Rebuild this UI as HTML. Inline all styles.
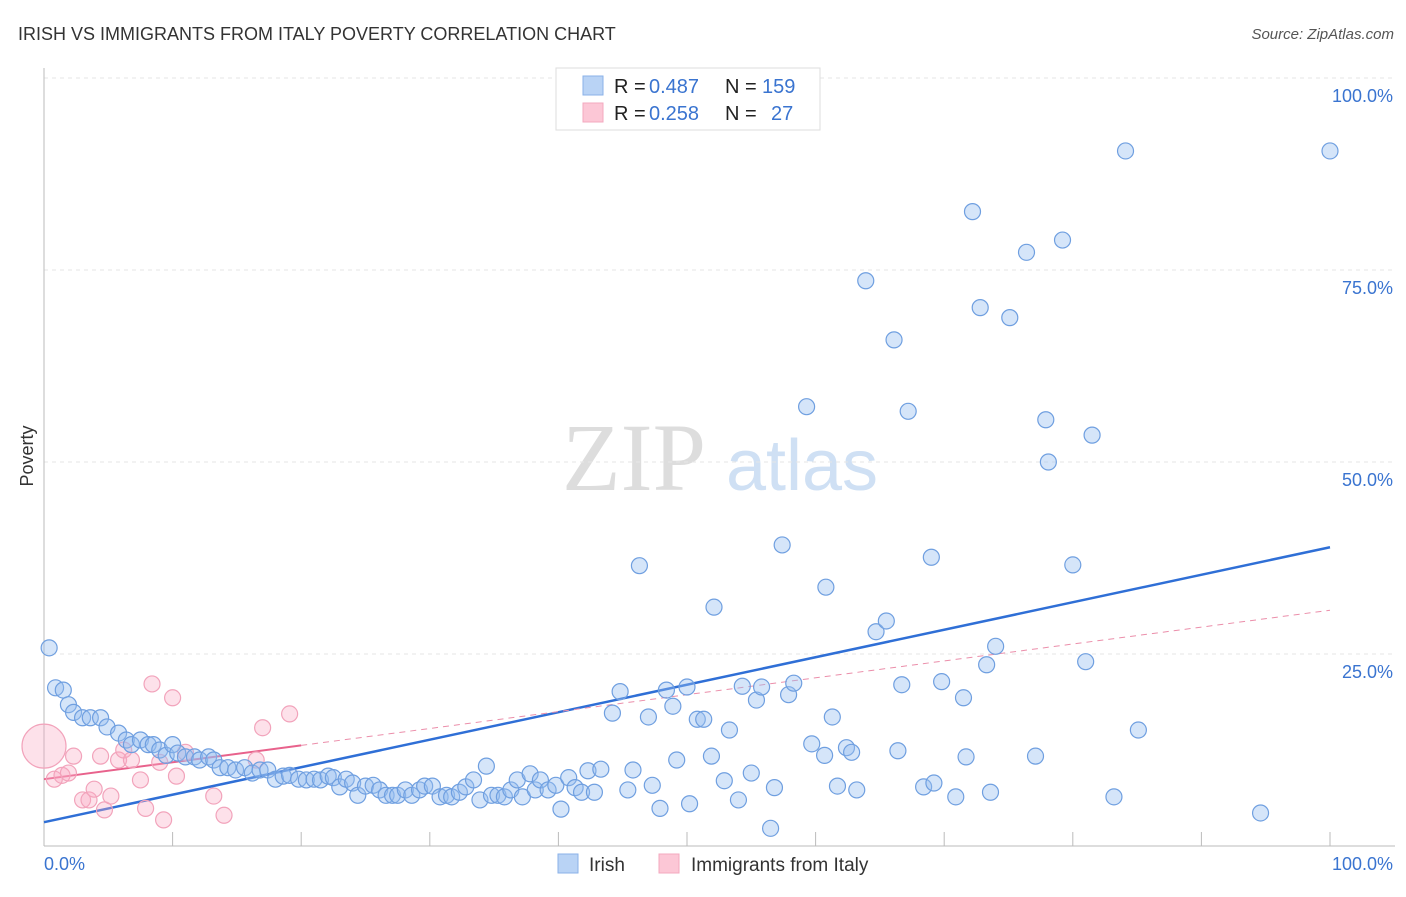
<!DOCTYPE html>
<html><head><meta charset="utf-8"><style>
body{margin:0;background:#fff;font-family:"Liberation Sans",sans-serif;}
svg text{font-family:"Liberation Sans",sans-serif;}
</style></head><body>
<svg id="chart" width="1406" height="892">
<text x="18" y="40" font-size="18" fill="#333">IRISH VS IMMIGRANTS FROM ITALY POVERTY CORRELATION CHART</text>
<text x="1394" y="39" font-size="15" fill="#555" font-style="italic" text-anchor="end">Source: ZipAtlas.com</text>
<g>
<text x="634" y="490" font-size="96" fill="#ddd" font-family="Liberation Serif" text-anchor="middle" style="font-family:'Liberation Serif',serif">ZIP</text>
<text x="802" y="490" font-size="72" fill="#cfe0f4" text-anchor="middle">atlas</text>
</g>
<text transform="translate(33,456) rotate(-90)" font-size="18" fill="#333" text-anchor="middle">Poverty</text>
<g id="grid"></g><g id="axes"></g><g id="lines"></g><g id="pts"></g>
<g>
<rect x="556" y="68" width="264" height="62" fill="#fff" stroke="#ddd"/>
<rect x="583" y="76" width="20" height="19" fill="#b9d3f5" stroke="#8ab2e8"/>
<rect x="583" y="103" width="20" height="19" fill="#fcc7d6" stroke="#f3a8bf"/>
<text x="614" y="93" font-size="20" fill="#222">R =</text>
<text x="649" y="93" font-size="20" fill="#3a74d0">0.487</text>
<text x="725" y="93" font-size="20" fill="#222">N =</text>
<text x="762" y="93" font-size="20" fill="#3a74d0">159</text>
<text x="614" y="120" font-size="20" fill="#222">R =</text>
<text x="649" y="120" font-size="20" fill="#3a74d0">0.258</text>
<text x="725" y="120" font-size="20" fill="#222">N =</text>
<text x="771" y="120" font-size="20" fill="#3a74d0">27</text>
</g>
<g>
<rect x="558" y="854" width="20" height="19" fill="#b9d3f5" stroke="#8ab2e8"/>
<text x="589" y="871" font-size="19" fill="#333">Irish</text>
<rect x="659" y="854" width="20" height="19" fill="#fcc7d6" stroke="#f3a8bf"/>
<text x="691" y="871" font-size="19" fill="#333">Immigrants from Italy</text>
</g>
</svg>
<script>
const yTicks=[25,50,75,100];
const yTickLabels=["25.0%","50.0%","75.0%","100.0%"];
const irishX=[0.4,0.9,1.5,1.9,2.3,3.0,3.6,4.4,4.9,5.8,6.4,6.8,7.5,8.1,8.5,9.0,9.5,10.0,10.4,11.0,11.7,12.1,12.8,13.2,13.7,14.3,14.9,15.6,16.2,16.8,17.4,18.0,18.6,19.1,19.8,20.4,21.0,21.5,22.1,22.5,23.0,23.5,24.0,24.4,25.0,25.6,26.1,26.6,27.1,27.5,28.1,28.6,29.2,29.6,30.2,30.8,31.3,31.7,32.3,32.8,33.4,33.9,34.4,34.8,35.3,35.8,36.3,36.8,37.2,37.8,38.2,38.6,39.2,39.8,40.2,40.8,41.3,41.8,42.3,42.8,43.3,
44.2,44.8,45.4,45.8,46.3,47.0,47.3,47.9,48.4,48.9,49.2,50.0,50.2,50.8,51.3,51.9,52.1,52.9,53.3,54.0,54.3,55.0,55.4,55.8,56.5,56.8,57.4,57.9,58.3,59.3,59.7,60.7,60.8,61.3,61.7,62.4,62.8,63.2,63.9,64.7,65.5,66.1,66.4,66.7,67.2,68.4,69.0,69.2,69.8,70.9,71.5,71.7,72.2,72.8,73.3,73.6,74.0,75.1,76.4,77.1,77.9,78.1,79.2,80.0,81.0,81.5,83.2,84.1,85.1,94.6,100];
const irishY=[25.8,20.6,20.3,18.4,17.4,16.7,16.7,16.7,15.5,14.7,13.8,13.2,13.8,13.2,13.2,12.5,11.8,13.2,12.1,11.6,11.6,11.2,11.6,11.2,10.2,10.2,9.9,10.2,9.5,9.9,9.9,8.7,9.1,9.2,8.7,8.6,8.7,8.6,9.1,8.9,7.7,8.7,8.2,6.6,7.8,7.9,7.3,6.6,6.6,6.6,7.3,6.6,7.3,7.8,7.8,6.4,6.6,6.4,7.0,7.7,8.6,6.0,10.4,6.6,6.6,6.4,7.3,8.6,6.4,9.4,7.3,8.6,7.3,7.9,4.8,8.9,7.6,7.0,9.8,7.0,10.0,
17.3,20.1,7.3,9.9,36.5,16.8,7.9,4.9,20.3,18.2,11.2,20.7,5.5,16.5,16.5,11.7,31.1,8.5,15.1,6.0,20.8,9.5,19.0,20.7,2.3,7.6,39.2,19.7,21.2,57.2,13.3,11.8,33.7,16.8,7.8,12.8,12.2,7.3,73.6,27.9,29.3,65.9,12.4,21.0,56.6,7.7,37.6,8.2,21.4,6.4,19.3,11.6,82.6,70.1,23.6,7.0,26.0,68.8,77.3,11.7,55.5,50.0,78.9,36.6,24.0,53.5,6.4,90.5,15.1,4.3,90.5];
const italyX=[0,0.8,1.4,1.9,2.3,3.0,3.5,3.9,4.4,4.7,5.2,5.8,6.2,6.8,7.5,7.9,8.4,9.0,9.3,10.0,10.3,11.0,13.2,14.0,16.5,17.0,19.1];
const italyY=[13.0,8.7,9.2,9.5,11.7,6.0,6.0,7.4,11.7,4.7,6.5,11.2,12.5,11.2,8.6,4.9,21.1,10.9,3.4,19.3,9.1,12.2,6.5,4.0,11.2,15.4,17.2];
const irishTrend=[3.1,38.9];
const italyTrend=[8.7,30.7];
const italySolidEnd=20;

const NS="http://www.w3.org/2000/svg";
const X=v=>44+v*12.86, Y=v=>846-v*7.68;
function mk(tag,attrs,parent){const e=document.createElementNS(NS,tag);for(const k in attrs)e.setAttribute(k,attrs[k]);document.getElementById(parent).appendChild(e);return e;}
yTicks.forEach((t,i)=>{
 const g=mk('line',{x1:44,x2:1395,y1:Y(t),y2:Y(t),stroke:'#e6e6e6','stroke-dasharray':'4,4'},'grid');
 
 
 const l=mk('text',{x:1393,y:Y(t)+24,'font-size':18,fill:'#3a74d0','text-anchor':'end'},'grid');
 l.textContent=yTickLabels[i];
 
 
});
const ax=mk('line',{x1:44,x2:44,y1:68,y2:846,stroke:'#bbb'},'axes');


const bx=mk('line',{x1:44,x2:1395,y1:846,y2:846,stroke:'#bbb'},'axes');


for(let i=0;i<=10;i++){const t=mk('line',{x1:X(i*10),x2:X(i*10),y1:832,y2:846,stroke:'#bbb'},'axes');
 
 }
[[0,'0.0%','start',44],[100,'100.0%','end',1393]].forEach(a=>{const t=mk('text',{x:a[3],y:870,'font-size':18,fill:'#3a74d0','text-anchor':a[2]},'axes');t.textContent=a[1];
 
 });
italyX.forEach((x,i)=>{const c=mk('circle',{cx:X(x),cy:Y(italyY[i]),r:i==0?22:8,fill:'rgba(248,170,195,0.35)',stroke:'#f2a3bb','stroke-width':1.2},'pts');
 
 });
irishX.forEach((x,i)=>{const c=mk('circle',{cx:X(x),cy:Y(irishY[i]),r:8,fill:'rgba(150,190,240,0.4)',stroke:'#6f9fe0','stroke-width':1.2},'pts');
 
 });
const t1=mk('line',{x1:X(0),y1:Y(irishTrend[0]),x2:X(100),y2:Y(irishTrend[1]),stroke:'#2f6fd6','stroke-width':2.5},'lines');


const pe=italyTrend[0]+(italyTrend[1]-italyTrend[0])*italySolidEnd/100;
const t2=mk('line',{x1:X(0),y1:Y(italyTrend[0]),x2:X(italySolidEnd),y2:Y(pe),stroke:'#e8628c','stroke-width':2},'lines');


const t3=mk('line',{x1:X(italySolidEnd),y1:Y(pe),x2:X(100),y2:Y(italyTrend[1]),stroke:'#eb8eaa','stroke-width':1,'stroke-dasharray':'6,5'},'lines');


</script>
</body></html>
